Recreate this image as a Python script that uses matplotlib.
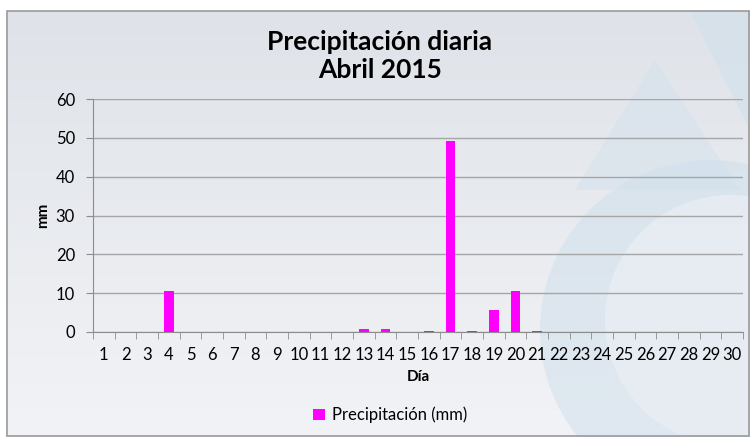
import numpy as np
import matplotlib.pyplot as plt
from matplotlib.patches import Rectangle, Circle, Polygon

dias = list(range(1, 31))
precip = [0, 0, 0, 10.5, 0, 0, 0, 0, 0, 0, 0, 0, 0.8, 0.8, 0, 0.3, 49.2, 0.3, 5.6, 10.5,
          0.3, 0, 0, 0, 0, 0, 0, 0, 0, 0]
yticks = [0, 10, 20, 30, 40, 50, 60]

plt.rcParams['font.family'] = ['Lato', 'DejaVu Sans']

W, H = 750, 437
fig = plt.figure(figsize=(7.5, 4.37), dpi=100)
fig.patch.set_facecolor('white')

# background panel with soft gradient
bg = fig.add_axes([0, 0, 1, 1])
bg.set_xlim(0, W)
bg.set_ylim(H, 0)
bg.axis('off')
grad = np.linspace(0, 1, 200).reshape(-1, 1)
bg.imshow(grad, extent=(7, W, H, 11), cmap=plt.matplotlib.colors.LinearSegmentedColormap.from_list(
    'g', ['#dfe3e9', '#f2f3f6']), aspect='auto', zorder=0)
# faint watermark (drop shape)
bg.add_patch(Circle((710, 330), 170, color='#cfe0ec', alpha=0.5, zorder=1, lw=0))
bg.add_patch(Circle((730, 320), 125, color='#e9eef3', alpha=0.8, zorder=1, lw=0))
bg.add_patch(Polygon([[655, 60], [575, 190], [740, 190]], closed=True,
                     color='#cfe0ec', alpha=0.4, zorder=1, lw=0))
bg.add_patch(Polygon([[690, 11], [750, 11], [750, 130]], closed=True,
                     color='#cfe0ec', alpha=0.5, zorder=1, lw=0))
bg.add_patch(Rectangle((7, 11), W - 8, H - 12, fill=False, ec='#9a9a9a', lw=1.2, zorder=2))

ax = fig.add_axes([93 / W, 105 / H, 650 / W, 233 / H])
ax.patch.set_alpha(0)
ax.bar(dias, precip, width=0.45, color='#ff00ff', zorder=3, label='Precipitación (mm)')
ax.set_xlim(0.5, 30.5)
ax.set_ylim(0, 60)
ax.set_yticks(yticks)
ax.yaxis.grid(True, color='#a6a6a6', lw=1)
ax.set_axisbelow(True)
for s in ['top', 'right']:
    ax.spines[s].set_visible(False)
for s in ['left', 'bottom']:
    ax.spines[s].set_color('#8c8c8c')
ax.set_xticks(dias)
ax.set_xticklabels([str(d) for d in dias], fontsize=12)
ax.set_xticks(np.arange(0.5, 31, 1), minor=True)
ax.tick_params(axis='x', which='major', length=0, pad=11)
ax.tick_params(axis='x', which='minor', length=5, color='#8c8c8c')
ax.tick_params(axis='y', length=5, color='#8c8c8c', labelsize=12, pad=8)
ax.set_xlabel('Día', fontsize=11, fontweight='bold', labelpad=5)
ax.set_ylabel('mm', fontsize=11, fontweight='bold', labelpad=4)

fig.text(380 / W, 1 - 56 / H, 'Precipitación diaria\nAbril 2015', ha='center', va='center',
         fontsize=19, fontweight='bold', linespacing=1.2)
fig.legend(loc='center', bbox_to_anchor=(390 / W, 1 - 415 / H), frameon=False, fontsize=12,
           handlelength=0.7, handleheight=0.7, handletextpad=0.4)

fig.savefig('out.png', dpi=100)
